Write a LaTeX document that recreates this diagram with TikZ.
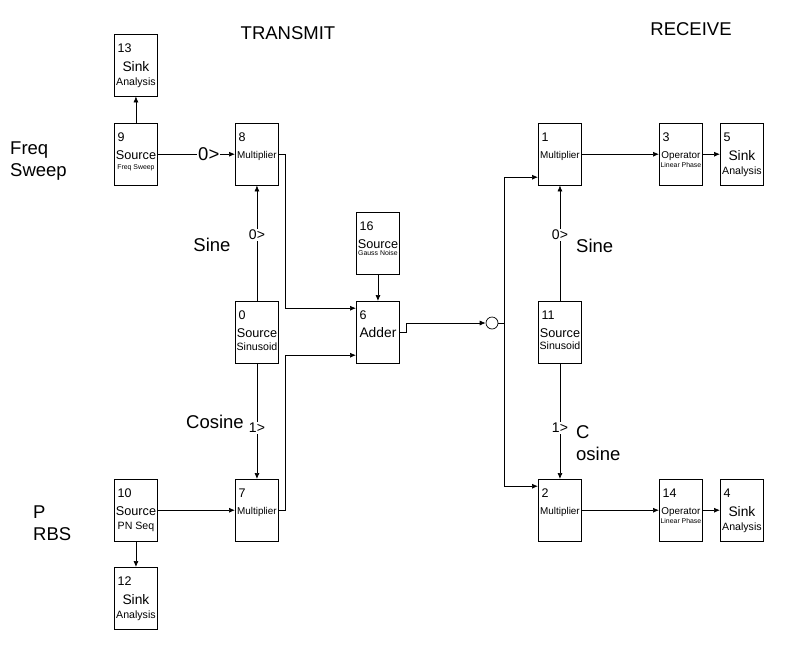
\documentclass[tikz,border=0pt]{standalone}
\usepackage{fontspec}
\setmainfont{Liberation Sans}
\usepackage{tikz}
\usetikzlibrary{calc}
\usetikzlibrary{arrows.meta}

\tikzset{
	blk/.style={draw,line width=0.9pt,minimum width=43pt,minimum height=61.5pt,anchor=north west,inner sep=0pt},
	num/.style={anchor=base west,inner sep=0pt,font=\fontsize{12.5}{12.5}\selectfont},
	ttl/.style={anchor=base,inner sep=0pt,font=\fontsize{12.7}{12.7}\selectfont},
	ttlbig/.style={anchor=base,inner sep=0pt,font=\fontsize{13.8}{13.8}\selectfont},
	ttlsm/.style={anchor=base,inner sep=0pt,font=\fontsize{9.9}{9.9}\selectfont},
	sub/.style={anchor=base,inner sep=0pt,font=\fontsize{10.6}{10.6}\selectfont},
	subsm/.style={anchor=base,inner sep=0pt,font=\fontsize{6.9}{6.9}\selectfont},
	big/.style={inner sep=0pt,font=\fontsize{18.5}{22}\selectfont},
	port/.style={fill=white,inner sep=1pt,font=\fontsize{14}{14}\selectfont},
	wire/.style={line width=0.7pt},
	arr/.style={wire,-{Latex[length=6pt,width=5pt]}}
}

\begin{document}
\begin{tikzpicture}[x=1pt,y=-1pt]
		\useasboundingbox (0,0) rectangle (797,659);
		% blocks
		\foreach \n/\x/\y in {13/114/34,9/114/123,8/235/123,16/356/212,0/235/301,6/356/301,
			7/235/479,10/114/479,12/114/567,1/538/123,3/659/123,5/720/123,11/538/301,
			2/538/479,14/659/479,4/720/479}{
			\node[blk] (b\n) at (\x,\y) {};
			\node[num] (n\n) at ($(b\n.north west)+(3.5,18)$) {\n};
		}
		\node[ttlbig] (t13) at ($(b13.north)+(0,37)$) {Sink};
		\node[sub] (s13) at ($(b13.north)+(0,51)$) {Analysis};
		\node[ttl] (t9) at ($(b9.north)+(0,36.5)$) {Source};
		\node[subsm] (s9) at ($(b9.north)+(0,46.5)$) {Freq Sweep};
		\node[ttlsm] (t8) at ($(b8.north)+(0,35.5)$) {Multiplier};
		\node[ttl] (t16) at ($(b16.north)+(0,36.5)$) {Source};
		\node[subsm] (s16) at ($(b16.north)+(0,43.5)$) {Gauss Noise};
		\node[ttl] (t0) at ($(b0.north)+(0,36.5)$) {Source};
		\node[sub] (s0) at ($(b0.north)+(0,49)$) {Sinusoid};
		\node[ttlbig] (t6) at ($(b6.north)+(0,36)$) {Adder};
		\node[ttlsm] (t7) at ($(b7.north)+(0,35)$) {Multiplier};
		\node[ttl] (t10) at ($(b10.north)+(0,36)$) {Source};
		\node[sub] (s10) at ($(b10.north)+(0,50)$) {PN Seq};
		\node[ttlbig] (t12) at ($(b12.north)+(0,37)$) {Sink};
		\node[sub] (s12) at ($(b12.north)+(0,51)$) {Analysis};
		\node[ttlsm] (t1) at ($(b1.north)+(0,35)$) {Multiplier};
		\node[ttlsm] (t3) at ($(b3.north)+(0,35.5)$) {Operator};
		\node[subsm] (s3) at ($(b3.north)+(0,44.5)$) {Linear Phase};
		\node[ttlbig] (t5) at ($(b5.north)+(0,37)$) {Sink};
		\node[sub] (s5) at ($(b5.north)+(0,51)$) {Analysis};
		\node[ttl] (t11) at ($(b11.north)+(0,36.5)$) {Source};
		\node[sub] (s11) at ($(b11.north)+(0,48)$) {Sinusoid};
		\node[ttlsm] (t2) at ($(b2.north)+(0,35)$) {Multiplier};
		\node[ttlsm] (t14) at ($(b14.north)+(0,35.5)$) {Operator};
		\node[subsm] (s14) at ($(b14.north)+(0,44.5)$) {Linear Phase};
		\node[ttlbig] (t4) at ($(b4.north)+(0,37)$) {Sink};
		\node[sub] (s4) at ($(b4.north)+(0,51)$) {Analysis};
		% summing point
		\node[draw,circle,line width=0.7pt,minimum size=12pt,inner sep=0pt] (sum) at (492,323) {};
		% transmit side
		\draw[arr] (b9.north) -- (b13.south);
		\draw[arr] (b9.east) -- (b8.west) node[pos=0.66,fill=white,inner sep=1pt,font=\fontsize{18.5}{18.5}\selectfont] (p98) {0>};
		\draw[arr] (b0.north) -- (b8.south) node[port,pos=0.57] (p08) {0>};
		\draw[arr] (b0.south) -- (b7.north) node[port,pos=0.56] (p07) {1>};
		\draw[arr] (b10.east) -- (b7.west);
		\draw[arr] (b10.south) -- (b12.north);
		\draw[arr] (b16.south) -- (b6.north);
		\draw[arr] (b8.east) -- ++(6,0) |- ($(b6.west)+(0,-24)$);
		\draw[arr] (b7.east) -- ++(6,0) |- ($(b6.west)+(0,23)$);
		\draw[arr] (b6.east) -- ++(6,0) |- (sum.west);
		% receive side
		\draw[wire] (sum.east) -- ++(6,0) coordinate (split);
		\draw[arr] (split) |- ($(b1.west)+(0,23)$);
		\draw[arr] (split) |- ($(b2.west)+(0,-24)$);
		\draw[arr] (b11.north) -- (b1.south) node[port,pos=0.57] (p111) {0>};
		\draw[arr] (b11.south) -- (b2.north) node[port,pos=0.56] (p112) {1>};
		\draw[arr] (b1.east) -- (b3.west);
		\draw[arr] (b3.east) -- (b5.west);
		\draw[arr] (b2.east) -- (b14.west);
		\draw[arr] (b14.east) -- (b4.west);
		% titles and signal names
		\node[big] (tx) at (288,33) {TRANSMIT};
		\node[big] (rx) at (691,29) {RECEIVE};
		\node[big,anchor=west,align=left] (fs) at (10,161) {Freq\\Sweep};
		\node[big,anchor=west,align=left] (prbs) at (33,523.5) {P\\RBS};
		\node[big] (sin1) at (212,245) {Sine};
		\node[big] (cos1) at (215,422) {Cosine};
		\node[big,anchor=west] (sin2) at (576,246) {Sine};
		\node[big,anchor=west,align=left] (cos2) at (576,443.5) {C\\osine};
	\end{tikzpicture}
\end{document}
